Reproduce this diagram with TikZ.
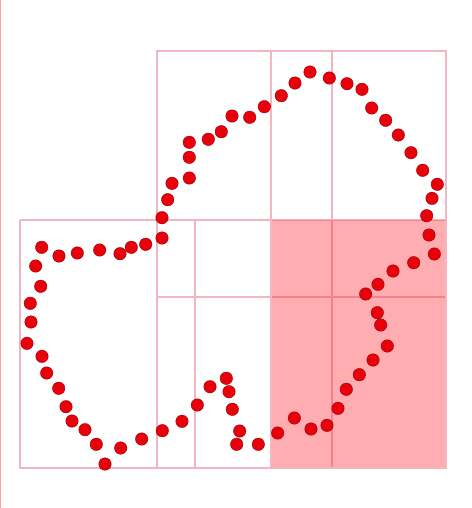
\documentclass[tikz,border=0pt]{standalone}
\usepackage{xcolor}
\usepackage{tikz}
\definecolor{gridpink}{RGB}{241,182,192}
\definecolor{cellred}{RGB}{255,50,58}
\definecolor{dotred}{RGB}{232,0,10}
\definecolor{edgesalmon}{RGB}{250,170,150}

\begin{document}
\begin{tikzpicture}[
    x=0.02cm, y=-0.02cm,
    gridline/.style={draw=gridpink, line width=0.038cm},
    cell/.style={fill=cellred, fill opacity=0.40},
    samplept/.style={circle, fill=dotred, draw=dotred!65!black, line width=0.008cm, minimum size=0.25cm, inner sep=0pt}
]
\useasboundingbox (0,0) rectangle (472,508);
\fill[white] (0,0) rectangle (472,508);
\draw[edgesalmon, line width=0.03cm] (0.5,0) -- (0.5,508);
% lines under the shaded cells
\draw[gridline] (157,220) rectangle (446,51);
\draw[gridline] (20,220) -- (157,220);
\draw[gridline] (157,220) -- (157,468);
\draw[gridline] (195,220) -- (195,468);
\draw[gridline] (332,51) -- (332,468);
\draw[gridline] (157,297) -- (446,297);
% shaded cells
\fill[cell] (271,220) rectangle (446,468);
% lines over them
\draw[gridline] (271,51) -- (271,468);
\draw[gridline] (446,220) -- (446,468) -- (20,468) -- (20,220);
% samples
\foreach \i/\px/\py in {
    1/41.7/247.3, 2/35.7/266, 3/40.7/286.3, 4/30.3/303.3, 5/31/322, 6/27/343.3,
    7/42/356.3, 8/46.7/373, 9/58.7/388.3, 10/66/406.7, 11/72/421, 12/85/429.7,
    13/96.3/444.3, 14/105/464, 15/120.7/448, 16/141.7/439, 17/162.3/430.7, 18/182/421.3,
    19/197.3/405, 20/210/386.7, 21/226.3/378.3, 22/229/391.7, 23/232.3/409.3, 24/239.7/431,
    25/236.7/444.3, 26/258.3/444.3, 27/277.7/433, 28/294.3/418, 29/311/429, 30/327/425.3,
    31/338/408.3, 32/346.3/389.3, 33/359.3/374.7, 34/373/360, 35/387.3/346, 36/380.7/325,
    37/377.3/312.7, 38/365.7/294, 39/378/284.3, 40/393/271, 41/413.7/262.7, 42/434.3/254,
    43/429/235, 44/426.7/215.7, 45/432/198.3, 46/437.3/184.3, 47/422.7/170.3, 48/411/152.7,
    49/398.3/135, 50/385.7/120.3, 51/371.7/108, 52/362/89.3, 53/347/83.7, 54/329.3/78,
    55/310/72, 56/295/83, 57/281.3/95.7, 58/264.3/106.7, 59/249.7/117.3, 60/232/116,
    61/221.3/131.7, 62/208.3/139.3, 63/189.3/142.3, 64/189.3/157.3, 65/189.3/178, 66/172/183.3,
    67/167.7/199.7, 68/162/217.7, 69/162/238, 70/145.7/244.3, 71/131.3/247.3, 72/120/253.7,
    73/99.7/250, 74/77.3/253, 75/59/256}
    \node[samplept] (p\i) at (\px,\py) {};
\end{tikzpicture}
\end{document}
